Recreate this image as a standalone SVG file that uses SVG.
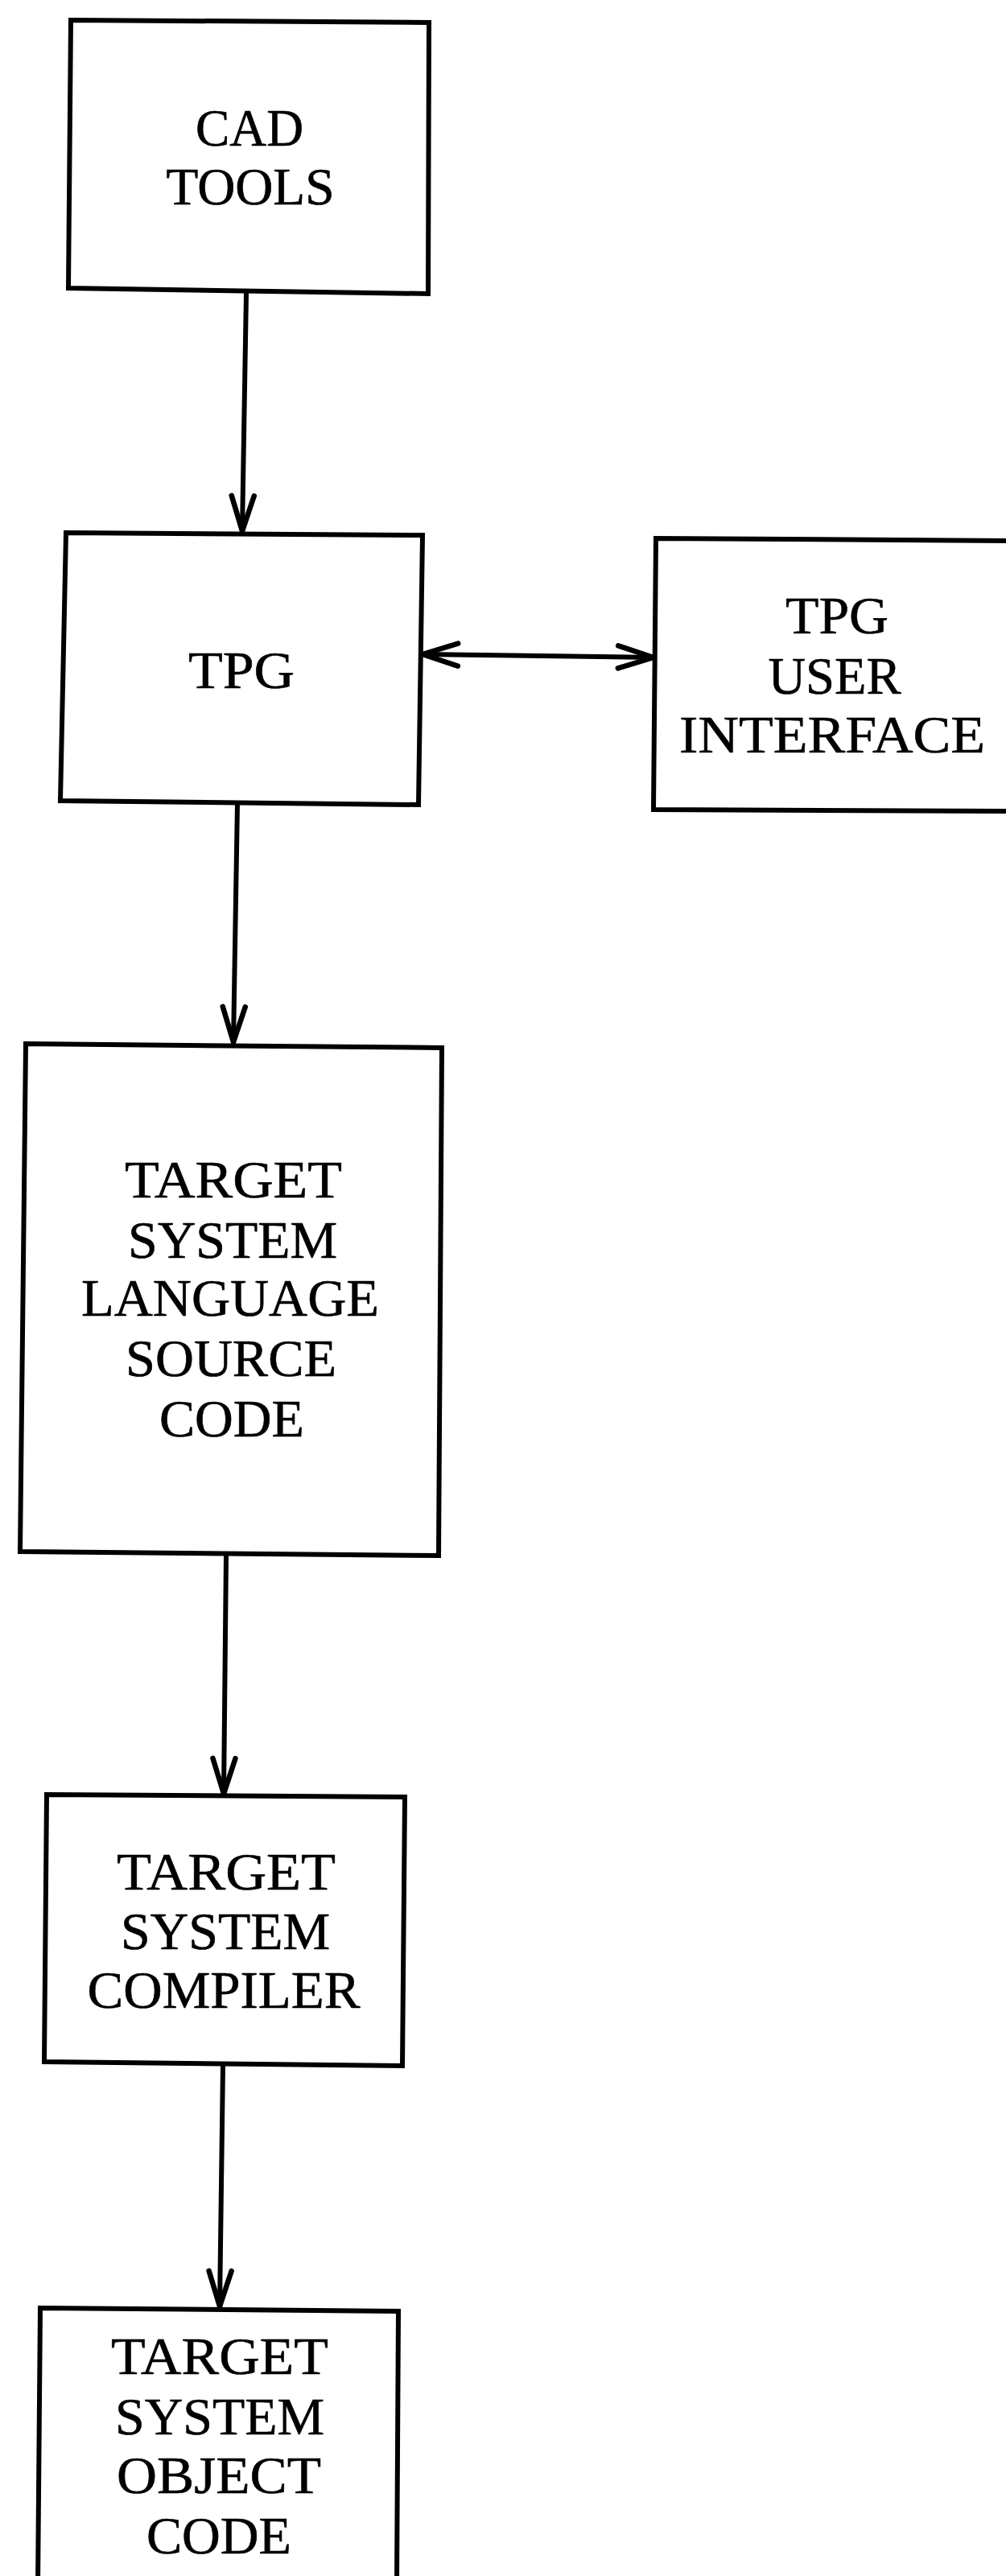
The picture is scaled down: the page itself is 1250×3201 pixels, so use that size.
<svg xmlns="http://www.w3.org/2000/svg" width="1250" height="3201" viewBox="0 0 1250 3201">
<style>
.box{fill:#fff;stroke:#000;stroke-width:6;stroke-linejoin:miter}
.lbl{font-family:"Liberation Serif","DejaVu Serif",serif;font-size:65px;fill:#000;stroke:#000;stroke-width:0.6;text-anchor:middle}
.conn{fill:none;stroke:#000;stroke-width:6}
</style>
<defs>
<marker id="arr" markerUnits="userSpaceOnUse" markerWidth="60" markerHeight="40" viewBox="-50 -20 60 40" refX="0" refY="0" orient="auto-start-reverse">
<path d="M-44,-14 L0,0 L-44,14" fill="none" stroke="#000" stroke-width="6.5" stroke-linecap="round" stroke-linejoin="miter"/>
</marker>
</defs>
<rect width="1250" height="3201" fill="#fff"/>
<g id="connectors">
<path class="conn" d="M306,364 L301,660" marker-end="url(#arr)"/>
<path class="conn" d="M295,998 L290,1295" marker-end="url(#arr)"/>
<path class="conn" d="M281,1932 L278,2229" marker-end="url(#arr)"/>
<path class="conn" d="M277,2566 L273,2866" marker-end="url(#arr)"/>
<path class="conn" d="M525,813 L812,817" marker-start="url(#arr)" marker-end="url(#arr)"/>
</g>
<g id="cad-tools">
<polygon class="box" points="88,25 533,28 532,365 85,358"/>
<text class="lbl" x="310" y="181" textLength="134" lengthAdjust="spacingAndGlyphs">CAD</text>
<text class="lbl" x="311" y="254" textLength="209" lengthAdjust="spacingAndGlyphs">TOOLS</text>
</g>
<g id="tpg">
<polygon class="box" points="82,662 525,665 520,1000 75,995"/>
<text class="lbl" x="300" y="855" textLength="132" lengthAdjust="spacingAndGlyphs">TPG</text>
</g>
<g id="tpg-user-interface">
<polygon class="box" points="815,669 1262,672 1262,1008 812,1006"/>
<text class="lbl" x="1040" y="787" textLength="128" lengthAdjust="spacingAndGlyphs">TPG</text>
<text class="lbl" x="1037" y="862" textLength="165" lengthAdjust="spacingAndGlyphs">USER</text>
<text class="lbl" x="1034" y="935" textLength="380" lengthAdjust="spacingAndGlyphs">INTERFACE</text>
</g>
<g id="source-code">
<polygon class="box" points="32,1297 549,1302 545,1933 25,1928"/>
<text class="lbl" x="290" y="1488" textLength="270" lengthAdjust="spacingAndGlyphs">TARGET</text>
<text class="lbl" x="289" y="1563" textLength="260" lengthAdjust="spacingAndGlyphs">SYSTEM</text>
<text class="lbl" x="286" y="1635" textLength="370" lengthAdjust="spacingAndGlyphs">LANGUAGE</text>
<text class="lbl" x="287" y="1710" textLength="262" lengthAdjust="spacingAndGlyphs">SOURCE</text>
<text class="lbl" x="288" y="1785" textLength="180" lengthAdjust="spacingAndGlyphs">CODE</text>
</g>
<g id="compiler">
<polygon class="box" points="58,2230 503,2233 500,2567 55,2562"/>
<text class="lbl" x="281" y="2348" textLength="272" lengthAdjust="spacingAndGlyphs">TARGET</text>
<text class="lbl" x="280" y="2422" textLength="260" lengthAdjust="spacingAndGlyphs">SYSTEM</text>
<text class="lbl" x="278" y="2495" textLength="339" lengthAdjust="spacingAndGlyphs">COMPILER</text>
</g>
<g id="object-code">
<polygon class="box" points="50,2868 495,2872 493,3215 47,3215"/>
<text class="lbl" x="273" y="2950" textLength="270" lengthAdjust="spacingAndGlyphs">TARGET</text>
<text class="lbl" x="273" y="3025" textLength="260" lengthAdjust="spacingAndGlyphs">SYSTEM</text>
<text class="lbl" x="272" y="3098" textLength="254" lengthAdjust="spacingAndGlyphs">OBJECT</text>
<text class="lbl" x="272" y="3173" textLength="180" lengthAdjust="spacingAndGlyphs">CODE</text>
</g>
</svg>
